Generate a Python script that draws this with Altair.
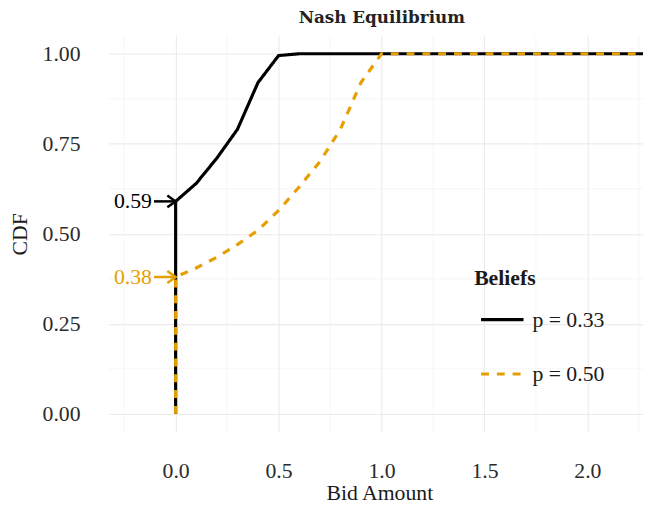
import altair as alt
import pandas as pd

# ---- data ----
series = ["p = 0.33", "p = 0.50"]
colors = ["#000000", "#E69F00"]

bid_033 = [0.0, 0.0, 0.1, 0.2, 0.3, 0.4, 0.5, 0.6, 2.5]
cdf_033 = [0.0, 0.59, 0.64, 0.71, 0.79, 0.92, 0.995, 1.0, 1.0]

bid_050 = [0.0, 0.0, 0.1, 0.2, 0.3, 0.4, 0.5, 0.6, 0.7, 0.8, 0.9, 1.0, 2.5]
cdf_050 = [0.0, 0.38, 0.405, 0.435, 0.47, 0.51, 0.565, 0.63, 0.70, 0.79, 0.92, 1.0, 1.0]

annot_values = [0.59, 0.38]
annot_labels = ["0.59", "0.38"]
arrow_start = [-0.105, -0.105]
arrow_end = [0.0, 0.0]
label_x = [-0.115, -0.115]

x_major = [0.0, 0.5, 1.0, 1.5, 2.0]
x_minor = [-0.25, 0.25, 0.75, 1.25, 1.75, 2.25]
y_major = [0.0, 0.25, 0.5, 0.75, 1.0]
y_minor = [0.125, 0.375, 0.625, 0.875]

FONT = "Liberation Serif"

rows = []
for i, (b, c) in enumerate(zip(bid_033, cdf_033)):
    rows.append({"series": series[0], "bid": b, "cdf": c, "idx": i})
for i, (b, c) in enumerate(zip(bid_050, cdf_050)):
    rows.append({"series": series[1], "bid": b, "cdf": c, "idx": i})
lines_df = pd.DataFrame(rows)

annot_df = pd.DataFrame({
    "series": series,
    "value": annot_values,
    "label": annot_labels,
    "x0": arrow_start,
    "x1": arrow_end,
    "lx": label_x,
})

xs = alt.Scale(domain=[-0.325, 2.27], nice=False, zero=False)
ys = alt.Scale(domain=[-0.05, 1.05], nice=False, zero=False)
cs = alt.Scale(domain=series, range=colors)
ds = alt.Scale(domain=series, range=[[1, 0], [8, 8]])

x_axis = alt.Axis(values=x_major, format=".1f", titleX=274, titleY=69,
                  titleBaseline="alphabetic", title="Bid Amount")
y_axis = alt.Axis(values=y_major, format=".2f", titleX=-83, titleY=200.5,
                  titleBaseline="alphabetic", title="CDF")

leg = alt.Legend(
    title="Beliefs", orient="none", legendX=370, legendY=235,
    symbolType="stroke", symbolSize=1849, symbolStrokeWidth=3.2,
    rowPadding=20, labelOffset=7, symbolOffset=5, titlePadding=7, padding=0,
)

minor_x = alt.Chart(pd.DataFrame({"v": x_minor})).mark_rule(
    color="#F2F2F2", strokeWidth=0.7
).encode(x=alt.X("v:Q", scale=xs, axis=x_axis))

minor_y = alt.Chart(pd.DataFrame({"v": y_minor})).mark_rule(
    color="#F2F2F2", strokeWidth=0.7
).encode(y=alt.Y("v:Q", scale=ys, axis=y_axis))

lines = alt.Chart(lines_df).mark_line(strokeWidth=3.2, strokeCap="butt", clip=True).encode(
    x=alt.X("bid:Q", scale=xs, axis=x_axis),
    y=alt.Y("cdf:Q", scale=ys, axis=y_axis),
    color=alt.Color("series:N", scale=cs, legend=leg),
    strokeDash=alt.StrokeDash("series:N", scale=ds, legend=leg),
    order=alt.Order("idx:Q"),
)

arrows = alt.Chart(annot_df).mark_rule(strokeWidth=2.5, strokeCap="butt").encode(
    x=alt.X("x0:Q", scale=xs, axis=x_axis),
    x2="x1:Q",
    y=alt.Y("value:Q", scale=ys, axis=y_axis),
    color=alt.Color("series:N", scale=cs, legend=None),
)

heads = alt.Chart(annot_df).mark_point(
    shape="M-1.4,-1L0,0L-1.4,1", filled=False, strokeWidth=2.5, size=144, opacity=1
).encode(
    x=alt.X("x1:Q", scale=xs, axis=x_axis),
    y=alt.Y("value:Q", scale=ys, axis=y_axis),
    color=alt.Color("series:N", scale=cs, legend=None),
)

labels = alt.Chart(annot_df).mark_text(
    align="right", baseline="middle", font=FONT, fontSize=22
).encode(
    x=alt.X("lx:Q", scale=xs, axis=x_axis),
    y=alt.Y("value:Q", scale=ys, axis=y_axis),
    text="label:N",
    color=alt.Color("series:N", scale=cs, legend=None),
)

chart = alt.layer(minor_x, minor_y, lines, arrows, heads, labels).properties(
    width=541,
    height=401,
    autosize=alt.AutoSizeParams(type="none"),
    padding={"left": 102, "top": 25, "right": 0, "bottom": 70},
    title=alt.TitleParams(
        "Nash Equilibrium", font="DejaVu Serif", fontSize=17, fontWeight="bold",
        color="#222222", anchor="middle", offset=9, dx=6,
    ),
).configure_view(stroke=None).configure_axis(
    domain=False, ticks=False,
    grid=True, gridColor="#EBEBEB", gridWidth=1.1,
    labelFont=FONT, labelFontSize=22, labelColor="#2b2b2b",
    titleFont=FONT, titleFontSize=22, titleColor="#1a1a1a", titleFontWeight="normal",
    labelPadding=29,
).configure_legend(
    titleFont=FONT, titleFontSize=22, titleFontWeight="bold", titleColor="#1a1a1a",
    labelFont=FONT, labelFontSize=22, labelColor="#1a1a1a",
)

chart.save("out.html", embed_options={"renderer": "svg", "actions": False})
